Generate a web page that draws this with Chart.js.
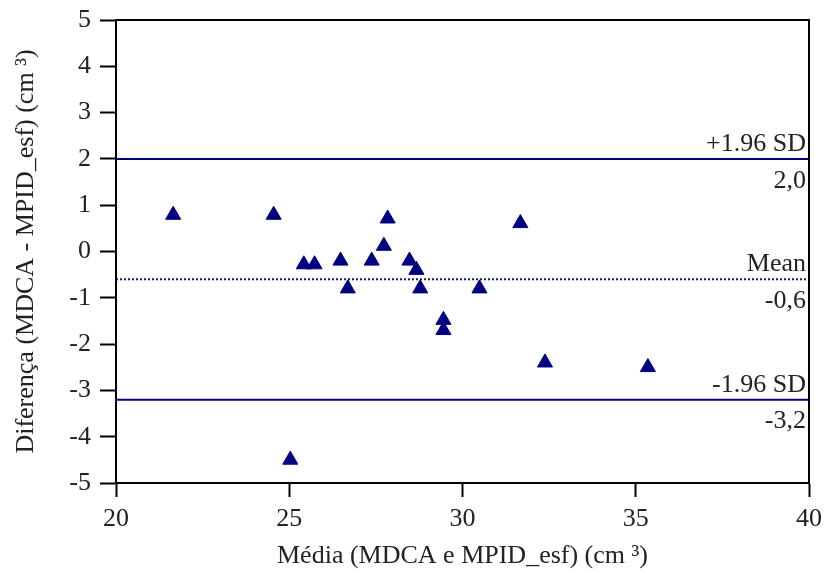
<!DOCTYPE html>
<html>
<head>
<meta charset="utf-8">
<script src="https://cdn.jsdelivr.net/npm/chart.js@4/dist/chart.umd.min.js"></script>
<style>
  html, body { margin: 0; padding: 0; background: #ffffff; }
  #wrap { width: 828px; height: 573px; }
</style>
</head>
<body>
<div id="wrap"><canvas id="c" width="828" height="573"></canvas></div>
<script>
// Bland-Altman: mean of the two measurements vs. their difference
const meanValues = [21.65, 24.55, 25.42, 25.73, 26.48, 26.69, 27.38, 27.73, 27.84, 28.47,
                    28.67, 28.78, 29.45, 29.45, 30.49, 31.67, 32.38, 35.35, 25.03];
const diffValues = [0.79, 0.79, -0.28, -0.28, -0.20, -0.80, -0.20, 0.12, 0.71, -0.20,
                    -0.40, -0.80, -1.48, -1.70, -0.80, 0.61, -2.40, -2.50, -4.50];

// Limits of agreement and mean difference
const limitNames  = ['+1.96 SD', 'Mean', '-1.96 SD'];
const limitValues = [2.0, -0.6, -3.2];
const limitDashed = [false, true, false];

const xRange = [20, 40];
const yRange = [-5, 5];

const navy = '#000080';
const serif = "'Liberation Serif', 'Times New Roman', serif";
const fontSize = 26;
const fmt = v => v.toFixed(1).replace('.', ',');

const limitDatasets = limitValues.map((v, i) => ({
  type: 'line',
  label: limitNames[i],
  data: [{x: xRange[0], y: v}, {x: xRange[1], y: v}],
  borderColor: limitDashed[i] ? '#1a1a5a' : navy,
  borderWidth: 2,
  borderDash: limitDashed[i] ? [2, 2] : [],
  pointRadius: 0,
  fill: false,
  order: 2
}));

// frame on the top and right of the plotting area
const framePlugin = {
  id: 'frame',
  afterDraw(chart) {
    const {ctx, chartArea: a} = chart;
    ctx.save();
    ctx.strokeStyle = '#000';
    ctx.lineWidth = 2;
    ctx.beginPath();
    ctx.moveTo(a.left, a.top);
    ctx.lineTo(a.right, a.top);
    ctx.lineTo(a.right, a.bottom);
    ctx.stroke();
    ctx.restore();
  }
};

// names above and values below each limit line
const limitLabels = {
  id: 'limitLabels',
  afterDatasetsDraw(chart) {
    const {ctx, chartArea: a, scales: {y}} = chart;
    ctx.save();
    ctx.font = fontSize + 'px ' + serif;
    ctx.fillStyle = '#222';
    ctx.textAlign = 'right';
    limitValues.forEach((v, i) => {
      const py = y.getPixelForValue(v);
      ctx.textBaseline = 'alphabetic';
      ctx.fillText(limitNames[i], a.right - 3, py - 8);
      ctx.textBaseline = 'top';
      ctx.fillText(fmt(v), a.right - 3, py + 9);
    });
    ctx.restore();
  }
};

new Chart(document.getElementById('c'), {
  type: 'scatter',
  data: {
    datasets: [
      {
        label: 'Diferença',
        data: meanValues.map((m, i) => ({x: m, y: diffValues[i]})),
        pointStyle: 'triangle',
        pointRadius: 8.7,
        pointHoverRadius: 8.7,
        backgroundColor: navy,
        borderColor: navy,
        borderWidth: 1,
        order: 1
      },
      ...limitDatasets
    ]
  },
  options: {
    responsive: false,
    animation: false,
    devicePixelRatio: 1,
    layout: { padding: { top: 20, right: 19, left: 0, bottom: 0 } },
    plugins: {
      legend: { display: false },
      tooltip: { enabled: false }
    },
    scales: {
      x: {
        type: 'linear',
        min: xRange[0],
        max: xRange[1],
        afterFit(s) { s.height = 90; s.paddingLeft = 0; s.paddingRight = 0; },
        ticks: {
          stepSize: 5,
          color: '#222',
          padding: 7,
          font: { family: serif, size: fontSize }
        },
        grid: { drawOnChartArea: false, tickLength: 14, tickWidth: 2, tickColor: '#000' },
        border: { display: true, color: '#000', width: 2 },
        title: {
          display: true,
          text: 'Média (MDCA e MPID_esf) (cm ³)',
          color: '#222',
          font: { family: serif, size: fontSize },
          padding: { top: 0, bottom: 1 }
        }
      },
      y: {
        type: 'linear',
        min: yRange[0],
        max: yRange[1],
        afterFit(s) { s.width = 116; s.paddingTop = 0; s.paddingBottom = 0; },
        ticks: {
          stepSize: 1,
          color: '#222',
          padding: 9,
          font: { family: serif, size: fontSize }
        },
        grid: { drawOnChartArea: false, tickLength: 16, tickWidth: 2, tickColor: '#000' },
        border: { display: true, color: '#000', width: 2 },
        title: {
          display: true,
          text: 'Diferença (MDCA - MPID_esf) (cm ³)',
          color: '#222',
          font: { family: serif, size: fontSize },
          padding: { top: 11, bottom: 0 }
        }
      }
    }
  },
  plugins: [framePlugin, limitLabels]
});
</script>
</body>
</html>
